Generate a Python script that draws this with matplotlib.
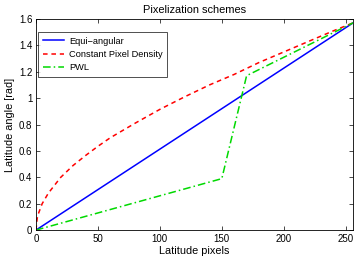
import matplotlib
matplotlib.use("Agg")
import matplotlib.pyplot as plt

plt.rcParams['font.family'] = ['Liberation Sans', 'DejaVu Sans']

eq_x = [0, 256]
eq_y = [0, 1.5708]

cpd_x = [0, 1, 2, 5, 10, 20, 30, 40, 50, 60, 80, 100, 120, 140, 160, 180, 200, 220, 240, 256]
cpd_y = [0, 0.09, 0.125, 0.2, 0.28, 0.40, 0.49, 0.565, 0.635, 0.70, 0.81, 0.915, 1.01, 1.10,
         1.18, 1.27, 1.35, 1.43, 1.51, 1.5708]

pwl_x = [0, 150, 170, 256]
pwl_y = [0, 0.39, 1.17, 1.5708]

xticks = [0, 50, 100, 150, 200, 250]
yticks = [0, 0.2, 0.4, 0.6, 0.8, 1, 1.2, 1.4, 1.6]
yticklabels = ['0', '0.2', '0.4', '0.6', '0.8', '1', '1.2', '1.4', '1.6']

fig = plt.figure(figsize=(3.56, 2.6), dpi=100)
ax = fig.add_axes([0.101, 0.115, 0.891, 0.812])

ax.plot(eq_x, eq_y, color=(0, 0, 1), lw=1.1, label='Equi\u2212angular')
ax.plot(cpd_x, cpd_y, color=(1, 0, 0), lw=1.1, ls=(0, (3, 2.5)), label='Constant Pixel Density')
ax.plot(pwl_x, pwl_y, color=(0, 0.85, 0), lw=1.1, ls=(0, (5, 2, 1, 2)), label='PWL')

ax.set_xlim(0, 256)
ax.set_ylim(0, 1.6)
ax.set_xticks(xticks)
ax.set_yticks(yticks)
ax.set_yticklabels(yticklabels)
ax.tick_params(direction='in', length=3, width=0.5, labelsize=7, top=True, right=True, pad=2.5)
for s in ax.spines.values():
    s.set_linewidth(0.6)

ax.set_xlabel('Latitude pixels', fontsize=7.8, labelpad=2)
ax.set_ylabel('Latitude angle [rad]', fontsize=7.8, labelpad=3)
ax.set_title('Pixelization schemes', fontsize=7.9, pad=4)

leg = ax.legend(loc='upper left', bbox_to_anchor=(0.006, 0.938), borderaxespad=0,
                fontsize=6.7, frameon=True, fancybox=False, edgecolor='black',
                handlelength=2.3, handletextpad=0.55, labelspacing=0.45, borderpad=0.5)
leg.get_frame().set_linewidth(0.6)

fig.savefig('out.png', dpi=100)
